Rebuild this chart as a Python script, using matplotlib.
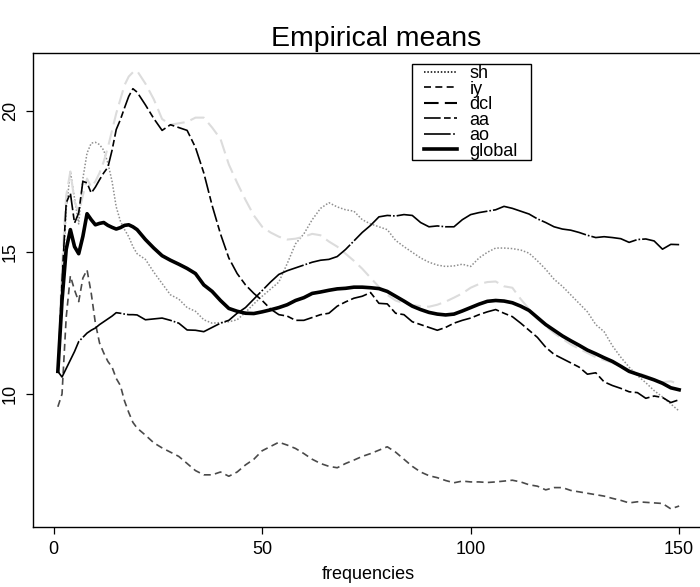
import matplotlib
matplotlib.use("Agg")
import matplotlib.pyplot as plt
from matplotlib.lines import Line2D
from matplotlib.patches import Rectangle

plt.rcParams['font.family'] = ['Liberation Sans', 'DejaVu Sans']

# frequency grid: 1..20 step 1, then 22..150 step 2
freqs = list(range(1, 21)) + list(range(22, 151, 2))

sh = [10.8, 13.5, 16.5, 17.85, 16.9, 16.0, 17.6, 18.5, 18.85, 18.88, 18.8, 18.6, 18.15, 17.5, 16.6, 16.1, 15.8, 15.55, 15.2, 14.95,
      14.75, 14.3, 13.9, 13.5, 13.35, 13.05, 12.92, 12.62, 12.5, 12.52, 12.55, 12.62, 12.88, 13.18, 13.45, 13.7, 13.95, 14.6, 15.3, 15.65,
      16.15, 16.55, 16.75, 16.6, 16.5, 16.45, 16.15, 16.0, 15.9, 15.8, 15.42, 15.2, 15.0, 14.8, 14.65, 14.55, 14.5, 14.52, 14.58, 14.5,
      14.8, 15.0, 15.15, 15.15, 15.13, 15.08, 14.97, 14.7, 14.4, 14.05, 13.8, 13.5, 13.2, 12.9, 12.45, 12.2, 11.7, 11.3, 10.95, 10.65,
      10.4, 10.12, 9.9, 9.65, 9.4]

iy = [9.55, 10.0, 12.7, 14.17, 13.67, 13.26, 14.09, 14.38, 13.56, 12.5, 11.8, 11.45, 11.15, 10.95, 10.55, 10.3, 9.75, 9.35, 9.0, 8.8,
      8.55, 8.28, 8.1, 7.95, 7.8, 7.55, 7.3, 7.15, 7.15, 7.25, 7.1, 7.25, 7.5, 7.7, 8.0, 8.15, 8.3, 8.2, 8.08, 7.9,
      7.7, 7.55, 7.45, 7.4, 7.55, 7.67, 7.8, 7.9, 8.02, 8.14, 7.95, 7.7, 7.45, 7.25, 7.12, 7.05, 6.95, 6.87, 6.93, 6.9,
      6.9, 6.88, 6.9, 6.93, 6.96, 6.9, 6.8, 6.75, 6.62, 6.7, 6.7, 6.6, 6.55, 6.5, 6.45, 6.4, 6.32, 6.25, 6.16, 6.2,
      6.18, 6.16, 6.14, 5.95, 6.05]

dcl = [10.8, 14.5, 17.0, 17.85, 16.8, 16.4, 17.0, 17.6, 17.3, 17.5, 17.8, 18.2, 18.7, 19.3, 19.9, 20.4, 20.9, 21.2, 21.35, 21.4,
       20.95, 20.4, 19.7, 19.5, 19.55, 19.6, 19.75, 19.75, 19.4, 19.0, 18.1, 17.45, 16.85, 16.3, 15.9, 15.7, 15.55, 15.45, 15.48, 15.55,
       15.65, 15.6, 15.38, 15.2, 14.95, 14.7, 14.42, 14.1, 13.78, 13.5, 13.3, 13.2, 13.14, 13.1, 13.08, 13.15, 13.26, 13.4, 13.55, 13.75,
       13.88, 13.95, 13.97, 13.8, 13.75, 13.35, 13.0, 12.65, 12.4, 12.15, 11.95, 11.75, 11.6, 11.45, 11.3, 11.2, 11.1, 10.98, 10.85, 10.75,
       10.65, 10.52, 10.42, 10.45, 10.35]

aa = [10.8, 14.0, 16.74, 17.09, 16.03, 16.39, 17.5, 17.45, 17.09, 17.3, 17.56, 17.8, 18.0, 18.6, 19.33, 19.68, 20.1, 20.5, 20.77, 20.65,
      20.2, 19.72, 19.3, 19.5, 19.4, 19.3, 18.7, 17.8, 16.65, 15.65, 14.8, 14.25, 13.85, 13.55, 13.3, 13.0, 12.8, 12.75, 12.6, 12.6,
      12.7, 12.8, 12.85, 13.1, 13.25, 13.38, 13.45, 13.58, 13.2, 13.18, 12.85, 12.8, 12.55, 12.45, 12.35, 12.25, 12.35, 12.5, 12.6, 12.68,
      12.8, 12.9, 12.98, 12.85, 12.73, 12.5, 12.25, 12.0, 11.65, 11.4, 11.25, 11.1, 10.95, 10.7, 10.75, 10.43, 10.3, 10.2, 10.08, 10.05,
      9.85, 9.93, 9.88, 9.7, 9.8]

ao = [10.8, 10.6, 10.9, 11.2, 11.5, 11.85, 12.0, 12.15, 12.25, 12.33, 12.45, 12.55, 12.65, 12.75, 12.87, 12.85, 12.82, 12.8, 12.8, 12.79,
      12.62, 12.65, 12.68, 12.6, 12.5, 12.26, 12.25, 12.2, 12.35, 12.5, 12.6, 12.85, 13.05, 13.35, 13.65, 13.95, 14.22, 14.35, 14.45, 14.55,
      14.65, 14.72, 14.75, 14.85, 15.1, 15.4, 15.7, 15.95, 16.25, 16.3, 16.28, 16.33, 16.3, 16.05, 15.9, 15.93, 15.9, 15.9, 16.15, 16.33,
      16.4, 16.45, 16.5, 16.62, 16.55, 16.45, 16.35, 16.18, 16.05, 15.9, 15.82, 15.78, 15.7, 15.6, 15.52, 15.55, 15.52, 15.48, 15.35, 15.45,
      15.47, 15.4, 15.11, 15.28, 15.27]

global_mean = [10.8, 13.3, 15.1, 15.8, 15.2, 14.95, 15.56, 16.36, 16.15, 15.97, 16.02, 16.05, 15.95, 15.88, 15.82, 15.87, 15.95, 15.97, 15.9, 15.8,
               15.45, 15.15, 14.88, 14.72, 14.58, 14.43, 14.25, 13.85, 13.62, 13.3, 13.02, 12.92, 12.85, 12.84, 12.9, 12.97, 13.05, 13.15, 13.3, 13.4,
               13.55, 13.6, 13.66, 13.71, 13.73, 13.77, 13.77, 13.75, 13.72, 13.62, 13.45, 13.28, 13.1, 12.98, 12.88, 12.82, 12.79, 12.82, 12.93, 13.05,
               13.17, 13.27, 13.3, 13.28, 13.22, 13.1, 12.95, 12.7, 12.45, 12.25, 12.05, 11.88, 11.72, 11.55, 11.42, 11.28, 11.15, 10.98, 10.8, 10.7,
               10.6, 10.5, 10.38, 10.22, 10.15]

labels = ["sh", "iy", "dcl", "aa", "ao", "global"]
x_ticks = [0, 50, 100, 150]
y_ticks = [10, 15, 20]

W, H = 700, 587
fig = plt.figure(figsize=(W / 100, H / 100), dpi=100)
ax = fig.add_axes([33 / W, (H - 527) / H, 671 / W, 474 / H])

styles = [
    dict(color="#8f8f8f", lw=1.1, ls=(0, (1, 1.2))),
    dict(color="#4a4a4a", lw=1.2, ls=(0, (4.2, 2.6))),
    dict(color="#dcdcdc", lw=1.5, ls=(0, (7, 3))),
    dict(color="black", lw=1.2, ls=(0, (10, 2, 4, 2))),
    dict(color="black", lw=1.2, ls=(0, (28, 1.2, 1, 1.2))),
    dict(color="black", lw=2.6, ls="-"),
]
series = [sh, iy, dcl, aa, ao, global_mean]
for s, st, lab in zip(series, styles, labels):
    ax.plot(freqs, s, color=st["color"], lw=st["lw"], linestyle=st["ls"], label=lab)

legend_handles = []
legend_dashes = [(0, (1, 1.2)), (0, (4.2, 2.6)), (0, (7, 3)), (0, (10, 2, 4, 2)), (0, (16, 1.5, 1, 1.5)), "-"]
for st, d, lab in zip(styles, legend_dashes, labels):
    legend_handles.append(Line2D([0], [0], color="black", lw=st["lw"], linestyle=d, label=lab))

ax.set_xlim(-4.96, 155.96)
ax.set_ylim(5.31, 22.03)
ax.set_xticks(x_ticks)
ax.set_yticks(y_ticks)
ax.tick_params(direction="out", length=5, width=0.9, labelsize=13, pad=5)
for lbl in ax.get_yticklabels():
    lbl.set_rotation(90)
    lbl.set_va("center")
for sp in ax.spines.values():
    sp.set_linewidth(1.0)
ax.set_xlabel("frequencies", fontsize=13, labelpad=6)
ax.set_title("Empirical means", fontsize=20.5, pad=5, x=(376 - 33) / 671)

# legend frame drawn as a patch in the axes (below the legend)
box = Rectangle((412 / W, 1 - 160 / H), 119 / W, 96 / H, transform=fig.transFigure,
                facecolor="white", edgecolor="black", lw=1.0, zorder=4, clip_on=False)
ax.add_patch(box)

leg = ax.legend(handles=legend_handles, loc="upper left",
                bbox_to_anchor=(424 / W, 1 - 65 / H), bbox_transform=fig.transFigure,
                fontsize=13, frameon=False,
                handlelength=1.85, handletextpad=0.66, labelspacing=-0.08,
                borderpad=0.0, borderaxespad=0)
leg.set_zorder(6)
fig.savefig("out.png", dpi=100)
